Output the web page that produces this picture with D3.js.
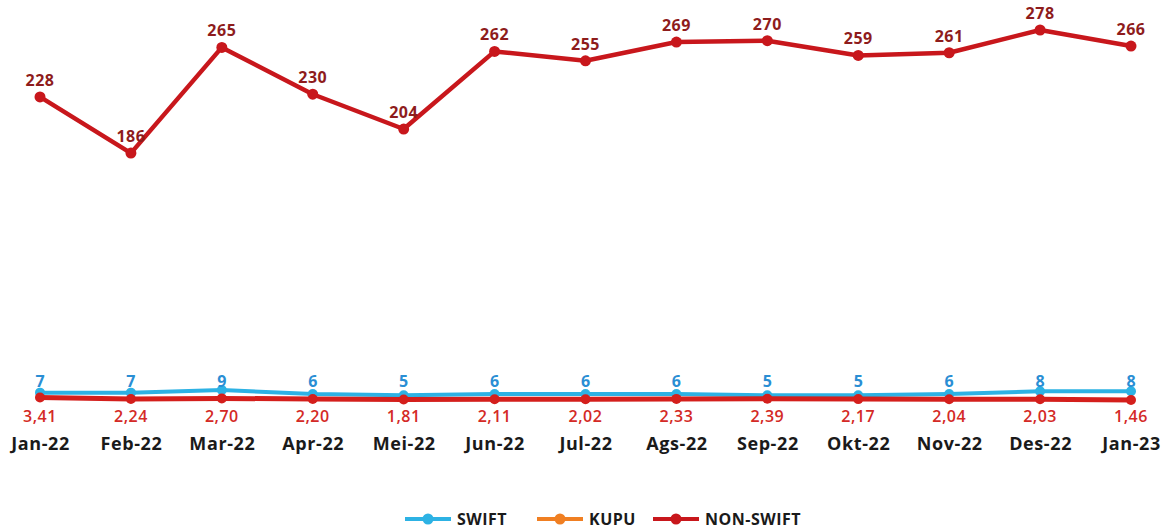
<!DOCTYPE html>
<html>
<head>
<meta charset="utf-8">
<script src="https://cdn.jsdelivr.net/npm/d3@7"></script>
<style>
  body { margin: 0; background: #fff; }
  svg { font-family: "Open Sans", sans-serif; }
</style>
</head>
<body>
<svg id="chart" width="1168" height="531"></svg>
<script>
// data
var months = ["Jan-22","Feb-22","Mar-22","Apr-22","Mei-22","Jun-22","Jul-22","Ags-22","Sep-22","Okt-22","Nov-22","Des-22","Jan-23"];
var nonSwift = [228,186,265,230,204,262,255,269,270,259,261,278,266];
var swift = [7,7,9,6,5,6,6,6,5,5,6,8,8];
var kupu = [3.41,2.24,2.70,2.20,1.81,2.11,2.02,2.33,2.39,2.17,2.04,2.03,1.46];
var legendNames = ["SWIFT","KUPU","NON-SWIFT"];

var svg = d3.select("#chart");

var x = d3.scalePoint().domain(months).range([40, 1131]);
var y = d3.scaleLinear().domain([0, 278]).range([402, 30]);

var fmt = function(v){ return d3.format(".2f")(v).replace(".", ","); };

function drawSeries(vals, color, r, width) {
  var line = d3.line()
    .x(function(d, i){ return x(months[i]); })
    .y(function(d){ return y(d); });
  svg.append("path")
    .datum(vals)
    .attr("d", line)
    .attr("fill", "none")
    .attr("stroke", color)
    .attr("stroke-width", width)
    .attr("stroke-linejoin", "round");
  svg.selectAll(null).data(vals).enter().append("circle")
    .attr("cx", function(d, i){ return x(months[i]); })
    .attr("cy", function(d){ return y(d); })
    .attr("r", r)
    .attr("fill", color);
}

drawSeries(swift, "#2db2e4", 5, 4);
drawSeries(kupu, "#d41f1c", 5, 5);
drawSeries(nonSwift, "#c8171c", 5.5, 4.5);

// value labels
svg.selectAll(".lab-ns").data(nonSwift).enter().append("text")
  .attr("x", function(d, i){ return x(months[i]); })
  .attr("y", function(d){ return y(d) - 11; })
  .attr("text-anchor", "middle")
  .attr("font-size", 16).attr("font-weight", 700)
  .attr("letter-spacing", 0.5)
  .attr("fill", "#8e1c1c")
  .text(function(d){ return d; });

svg.selectAll(".lab-sw").data(swift).enter().append("text")
  .attr("x", function(d, i){ return x(months[i]); })
  .attr("y", 387)
  .attr("text-anchor", "middle")
  .attr("font-size", 16).attr("font-weight", 700)
  .attr("fill", "#2a8ed4")
  .text(function(d){ return d; });

svg.selectAll(".lab-ku").data(kupu).enter().append("text")
  .attr("x", function(d, i){ return x(months[i]); })
  .attr("y", 422)
  .attr("text-anchor", "middle")
  .attr("font-size", 16).attr("font-weight", 600)
  .attr("letter-spacing", 0.5)
  .attr("fill", "#d42a26")
  .text(fmt);

// x axis labels
var xAxis = d3.axisBottom(x).tickSize(0).tickPadding(0);
var gx = svg.append("g").attr("transform", "translate(0,437)").call(xAxis);
gx.select(".domain").remove();
gx.selectAll("text")
  .attr("font-size", 18).attr("font-weight", 700)
  .attr("letter-spacing", 0.6)
  .attr("fill", "#1a1a1a")
  .attr("font-family", "\"Open Sans\", sans-serif");

// legend
var legColors = ["#2db2e4", "#f07f22", "#c8171c"];
var legX = [405, 537, 653];
var leg = svg.append("g");
legendNames.forEach(function(name, i){
  var g = leg.append("g").attr("transform", "translate(" + legX[i] + ",519)");
  g.append("line").attr("x1", 0).attr("x2", 46).attr("y1", 0).attr("y2", 0)
    .attr("stroke", legColors[i]).attr("stroke-width", 4);
  g.append("circle").attr("cx", 23).attr("cy", 0).attr("r", 5.5).attr("fill", legColors[i]);
  g.append("text").attr("x", 52).attr("y", 6)
    .attr("font-size", 16).attr("font-weight", 700).attr("fill", "#1a1a1a")
    .attr("letter-spacing", 0.5)
    .text(name);
});
</script>
</body>
</html>
